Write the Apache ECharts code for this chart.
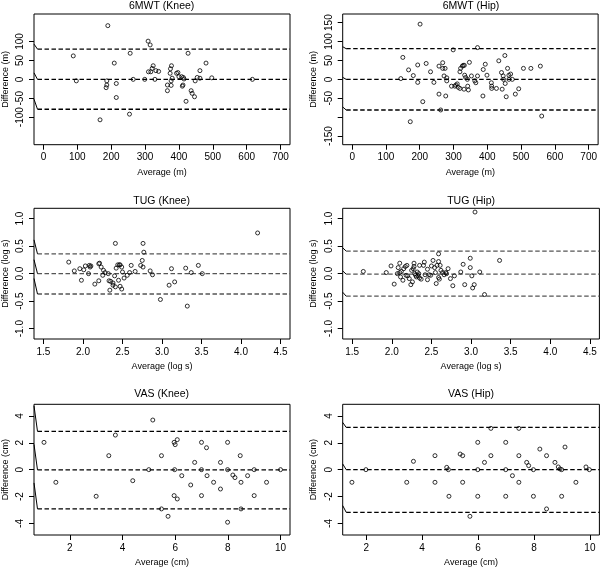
<!DOCTYPE html>
<html>
<head>
<meta charset="utf-8">
<script src="https://cdn.jsdelivr.net/npm/echarts@6/dist/echarts.min.js"></script>
<style>html,body{margin:0;padding:0;background:#fff}#c{width:600px;height:568px}</style>
</head>
<body>
<div id="c"></div>
<script>
// ---- data ----
const mwtKneeAvg = [88,97,190,167,187,187,185,209,215,215,254,256,265,299,309,315,310,317,321,324,329,332,340,366,366,374,375,378,377,377,380,393,397,400,408,410,412,415,413,421,427,436,439,446,448,454,462,462,480,497,617];
const mwtKneeDiff = [62,-4,142,-107,-4,-15,-22,43,-11,-48,-92,69,0,0,101,91,20,20,29,36,0,23,21,-15,-30,16,28,36,-4,-16,3,16,18,7,7,-18,-15,1,5,-58,69,-30,-37,-46,-4,5,23,3,43,4,0];
const mwtKneeLimits = [80,0,-79];

const mwtHipAvg = [144,150,167,181,172,194,194,201,219,209,232,242,257,257,268,268,272,275,262,277,280,280,294,299,304,307,311,314,319,319,321,326,329,332,331,333,336,341,342,344,347,353,363,366,371,371,387,388,394,399,412,413,413,427,434,442,447,448,444,452,453,456,460,464,464,469,474,483,493,507,529,557,561];
const mwtHipDiff = [2,58,25,10,-112,38,-8,146,42,-59,20,-8,35,-39,44,29,9,29,-81,-44,4,-4,-18,78,-18,-15,-12,-21,-24,20,29,35,37,37,-26,11,5,0,-18,-28,45,9,-4,-9,9,84,-44,26,40,11,-9,-18,-24,-24,49,18,9,0,-26,63,-11,-46,29,11,0,14,0,-39,-25,29,29,35,-97];
const mwtHipLimits = [81,0,-81];

const tugKneeAvg = [1.82,1.89,1.96,1.98,2.01,2.03,2.07,2.08,2.10,2.09,2.15,2.20,2.20,2.21,2.23,2.25,2.26,2.28,2.32,2.33,2.34,2.35,2.38,2.38,2.40,2.41,2.41,2.42,2.44,2.46,2.45,2.47,2.49,2.47,2.49,2.50,2.52,2.56,2.59,2.61,2.66,2.73,2.75,2.76,2.77,2.76,2.85,2.88,2.98,3.09,3.12,3.16,3.30,3.32,3.37,3.46,3.51,4.21];
const tugKneeDiff = [0.21,0.05,0.09,-0.12,0.07,0.14,0.0,0.15,0.14,0.12,-0.19,-0.13,0.18,0.19,0.12,-0.03,0.06,0.02,0.0,-0.13,-0.30,-0.14,-0.17,-0.21,-0.04,-0.24,0.55,0.10,0.16,0.16,-0.12,0.16,0.12,-0.23,-0.28,0.03,-0.08,-0.03,0.02,0.15,0.04,0.15,0.24,0.55,0.39,0.12,0.05,-0.02,-0.47,-0.21,0.09,-0.15,0.10,-0.59,0.02,0.15,0.0,0.74];
const tugKneeLimits = [0.36,0,-0.37];

const tugHipAvg = [1.64,1.93,1.99,2.03,2.07,2.08,2.10,2.10,2.11,2.12,2.14,2.15,2.17,2.18,2.19,2.20,2.22,2.24,2.26,2.25,2.27,2.28,2.28,2.29,2.30,2.31,2.32,2.33,2.34,2.35,2.35,2.37,2.40,2.41,2.42,2.45,2.45,2.47,2.49,2.50,2.52,2.54,2.55,2.56,2.57,2.59,2.59,2.59,2.60,2.61,2.62,2.64,2.66,2.68,2.69,2.71,2.74,2.77,2.79,2.87,2.90,2.92,2.99,2.99,3.01,3.02,3.04,3.05,3.11,3.17,3.36];
const tugHipDiff = [0.04,0.02,0.14,-0.19,0.0,0.11,0.19,0.02,-0.06,0.04,-0.12,0.09,0.13,-0.03,0.15,-0.04,-0.09,-0.20,-0.15,0.06,0.09,0.19,0.13,0.0,-0.03,-0.06,0.03,-0.04,0.0,0.15,-0.08,-0.10,0.15,0.21,-0.02,0.08,-0.11,-0.02,-0.03,0.14,0.24,0.11,0.02,-0.18,0.15,0.36,0.22,-0.07,-0.10,0.15,0.06,0.02,-0.02,0.02,0.0,0.09,-0.09,-0.22,-0.04,0.03,0.17,-0.20,0.28,0.11,-0.04,-0.26,-0.20,1.12,0.03,-0.38,0.24];
const tugHipLimits = [0.41,-0.01,-0.41];

const vasKneeAvg = [1.02,1.47,3.0,3.73,3.48,4.39,5.0,5.15,5.48,5.48,5.73,5.96,5.98,6.0,6.08,5.96,6.08,6.25,6.59,6.74,7.0,7.0,7.0,7.19,7.21,7.46,7.72,7.72,7.99,7.99,7.99,8.19,8.27,8.47,8.50,8.50,8.75,9.0,9.0,9.47,10.0];
const vasKneeDiff = [2.03,-0.94,-1.98,2.57,1.04,-0.82,0,3.69,1.04,-2.92,-3.47,2.03,0,1.86,2.23,-1.93,-2.18,-0.45,-1.14,0.54,2.03,0,-1.93,1.63,-0.45,-0.94,0.54,-1.44,2.03,0,-3.91,-0.40,-0.59,1.04,-0.94,-2.92,-0.45,0,-1.93,-0.94,0];
const vasKneeLimits = [2.85,-0.02,-2.92];

const vasHipAvg = [1.49,1.99,3.45,3.69,4.46,4.46,4.88,4.94,4.96,5.36,5.45,5.45,5.71,5.99,5.99,5.99,6.23,6.46,6.46,6.99,6.99,6.99,7.23,7.46,7.46,7.46,7.74,7.81,7.98,7.98,8.21,8.45,8.45,8.75,8.87,8.93,8.99,8.99,9.11,9.5,9.86,9.98];
const vasHipDiff = [-0.94,0,-0.94,0.62,1.04,-0.94,0.17,0,-1.98,1.16,1.04,-0.94,-3.47,2.03,0,-1.98,0.54,1.04,3.07,2.03,0,-1.98,-0.45,3.07,1.04,-0.94,0.54,0.30,0,-1.98,1.53,1.04,-2.92,0.54,0.20,0.05,0,-1.98,1.68,-0.94,0.20,0];
const vasHipLimits = [3.14,0,-3.17];

// axis limits (before R's 4% extension), ticks and tick labels
const mwtXLim = [0,700], mwtYLim = [-160,160];
const tugXLim = [1.5,4.5], tugYLim = [-1.1,1.1];
const vasKneeXLim = [1,10], vasHipXLim = [1.5,10], vasYLim = [-4.5,4.5];
const mwtXTicks = [0,100,200,300,400,500,600,700];
const mwtKneeYTicks = [-100,-50,0,50,100];
const mwtHipYTicks = [-150,-100,-50,0,50,100,150];
const mwtHipYLabels = [-150,-50,0,50,100,150];
const tugXTicks = [1.5,2.0,2.5,3.0,3.5,4.0,4.5];
const tugYTicks = [-1.0,-0.5,0.0,0.5,1.0];
const vasXTicks = [2,4,6,8,10];
const vasYTicks = [-4,-2,0,2,4];

// ---- layout / style ----
const FONT = 'Liberation Sans, Arial, Helvetica, sans-serif';
const gridPos = [[33.3,14],[342.7,14],[33.3,208.3],[342.7,208.3],[33.3,404.3],[342.7,404.3]];
const GW = 256.7, GH = 130.7;
const titleY = [6,6,201,201,394,394];

const panels = [
  {title:'6MWT (Knee)', x:mwtKneeAvg, y:mwtKneeDiff, lim:mwtKneeLimits, xl:mwtXLim, yl:mwtYLim, xt:mwtXTicks, yt:mwtKneeYTicks, ytl:mwtKneeYTicks, xn:'Average (m)', yn:'Difference (m)', xd:0, yd:0, lc:'#000', sl:[5,6.5,10]},
  {title:'6MWT (Hip)', x:mwtHipAvg, y:mwtHipDiff, lim:mwtHipLimits, xl:mwtXLim, yl:mwtYLim, xt:mwtXTicks, yt:mwtHipYTicks, ytl:mwtHipYLabels, xn:'Average (m)', yn:'Difference (m)', xd:0, yd:0, lc:'#000', sl:[2,2,3]},
  {title:'TUG (Knee)', x:tugKneeAvg, y:tugKneeDiff, lim:tugKneeLimits, xl:tugXLim, yl:tugYLim, xt:tugXTicks, yt:tugYTicks, ytl:tugYTicks, xn:'Average (log s)', yn:'Difference (log s)', xd:1, yd:1, lc:'#555', sl:[14,14,15.5]},
  {title:'TUG (Hip)', x:tugHipAvg, y:tugHipDiff, lim:tugHipLimits, xl:tugXLim, yl:tugYLim, xt:tugXTicks, yt:tugYTicks, ytl:tugYTicks, xn:'Average (log s)', yn:'Difference (log s)', xd:1, yd:1, lc:'#555', sl:[3.3,3.3,4]},
  {title:'VAS (Knee)', x:vasKneeAvg, y:vasKneeDiff, lim:vasKneeLimits, xl:vasKneeXLim, yl:vasYLim, xt:vasXTicks, yt:vasYTicks, ytl:vasYTicks, xn:'Average (cm)', yn:'Difference (cm)', xd:0, yd:0, lc:'#000', sl:[25.5,25.5,26]},
  {title:'VAS (Hip)', x:vasHipAvg, y:vasHipDiff, lim:vasHipLimits, xl:vasHipXLim, yl:vasYLim, xt:vasXTicks, yt:vasYTicks, ytl:vasYTicks, xn:'Average (cm)', yn:'Difference (cm)', xd:0, yd:0, lc:'#000', sl:[5,5.7,6.7]}
];

function ext(l){ const d = (l[1]-l[0])*0.04; return [l[0]-d, l[1]+d]; }

const grid=[], xAxis=[], yAxis=[], series=[], graphic=[];
panels.forEach((p,i)=>{
  const [gl,gt] = gridPos[i];
  const xr = ext(p.xl), yr = ext(p.yl);
  grid.push({left:gl, top:gt, width:GW, height:GH, show:true, borderColor:'#000', borderWidth:1, backgroundColor:'transparent', containLabel:false});
  xAxis.push({gridIndex:i, type:'value', min:xr[0], max:xr[1],
    axisLine:{show:false, onZero:false}, splitLine:{show:false},
    axisTick:{show:true, length:5, customValues:p.xt, lineStyle:{color:'#000', width:1}},
    axisLabel:{customValues:p.xt, formatter:v=>Number(v).toFixed(p.xd), fontSize:10, color:'#000', fontFamily:FONT, margin:8},
    name:p.xn, nameLocation:'middle', nameGap:23, nameTextStyle:{fontSize:9, color:'#000', fontFamily:FONT}});
  yAxis.push({gridIndex:i, type:'value', min:yr[0], max:yr[1],
    axisLine:{show:false, onZero:false}, splitLine:{show:false},
    axisTick:{show:true, length:5, customValues:p.yt, lineStyle:{color:'#000', width:1}},
    axisLabel:{show:false},
    name:p.yn, nameLocation:'middle', nameGap:i%2===0?24:25, nameRotate:90, nameTextStyle:{fontSize:9, color:'#000', fontFamily:FONT}});
  series.push({type:'scatter', xAxisIndex:i, yAxisIndex:i, data:p.x.map((v,k)=>[v,p.y[k]]),
    symbol:'circle', symbolSize:4, itemStyle:{color:'rgba(0,0,0,0)', borderColor:'#000', borderWidth:1}, silent:true, z:3});
  const pxX = (xr[1]-xr[0])/GW, pxY = (yr[1]-yr[0])/GH;
  const xs = xr[0] + 3.5*pxX;
  p.lim.forEach((v,k)=>{
    series.push({type:'line', xAxisIndex:i, yAxisIndex:i, data:[[xs,v],[xr[1],v]], symbol:'none', silent:true,
      lineStyle:{color:p.lc, width:1.3, type:[4.5,2.5]}, z:2});
    series.push({type:'line', xAxisIndex:i, yAxisIndex:i, data:[[xr[0],v+p.sl[k]*pxY],[xs,v]], symbol:'none', silent:true,
      lineStyle:{color:'#000', width:1}, z:2});
  });
  graphic.push({type:'text', x:gl+GW/2, y:titleY[i], style:{text:p.title, font:'10.5px '+FONT, fill:'#000', textAlign:'center', textVerticalAlign:'middle'}});
});

const chart = echarts.init(document.getElementById('c'), null, {renderer:'canvas'});
chart.setOption({animation:false, backgroundColor:'#fff', grid, xAxis, yAxis, series, graphic});

// rotated y tick labels (R style, reading bottom-to-top), placed through the axis scale
const yLabels = [];
panels.forEach((p,i)=>{
  const gl = gridPos[i][0];
  p.ytl.forEach(v=>{
    const py = chart.convertToPixel({yAxisIndex:i}, v);
    yLabels.push({type:'text', x:gl-13.5, y:py, rotation:Math.PI/2,
      style:{text:Number(v).toFixed(p.yd), font:'10px '+FONT, fill:'#000', textAlign:'center', textVerticalAlign:'middle'}});
  });
});
chart.setOption({graphic: graphic.concat(yLabels)});
</script>
</body>
</html>
